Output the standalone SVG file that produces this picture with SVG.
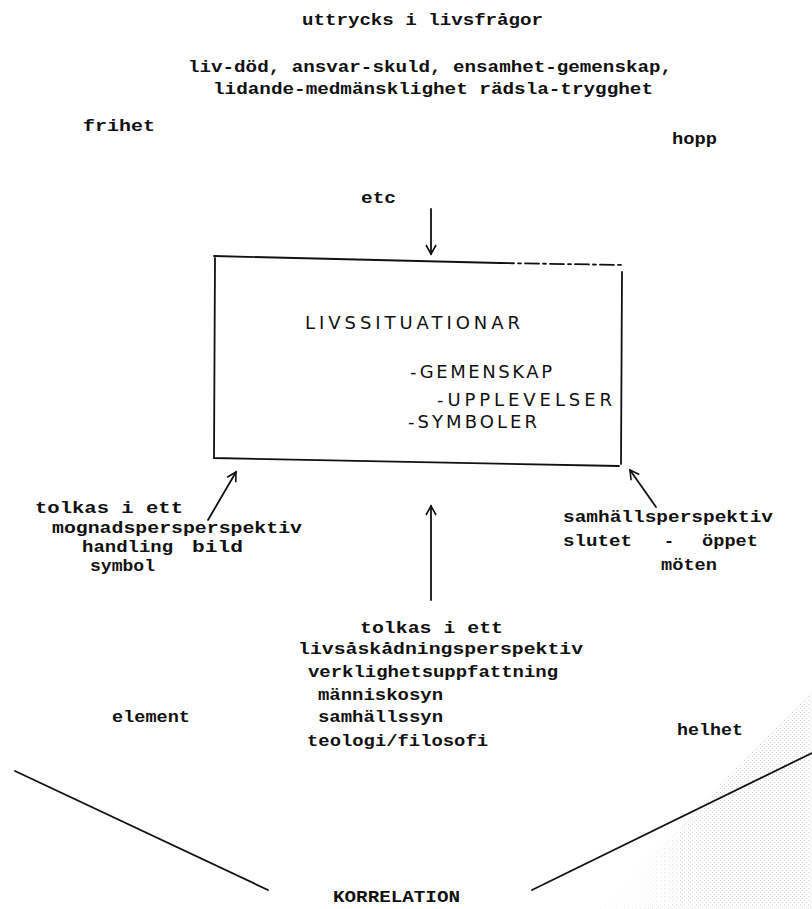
<svg xmlns="http://www.w3.org/2000/svg" width="812" height="909" viewBox="0 0 812 909">
<style>
.t{font-family:"Liberation Mono","DejaVu Sans Mono",monospace;font-weight:bold;font-size:16px;fill:#111}
.s{font-family:"DejaVu Sans","Liberation Sans",sans-serif;font-size:18px;fill:#111}
.ln{stroke:#111;stroke-width:1.8;fill:none;stroke-linecap:round}
</style>
<defs>
<marker id="ah" viewBox="0 0 12 12" refX="10" refY="6" markerWidth="12" markerHeight="12" markerUnits="userSpaceOnUse" orient="auto">
<path d="M1,1 L10,6 L1,11" fill="none" stroke="#111" stroke-width="1.6"/>
</marker>
<pattern id="speck" width="4" height="4" patternUnits="userSpaceOnUse">
<rect x="0" y="0" width="1" height="1" fill="#bbb"/>
<rect x="2" y="2" width="1" height="1" fill="#ccc"/>
</pattern>
<linearGradient id="fade" x1="0" y1="0" x2="1" y2="0">
<stop offset="0" stop-color="#fff" stop-opacity="1"/>
<stop offset="0.6" stop-color="#fff" stop-opacity="0"/>
</linearGradient>
</defs>
<rect width="812" height="909" fill="#fff"/>
<g id="scan-shade">
<polygon points="600,909 812,690 812,909" fill="url(#speck)" opacity="0.7"/>
<polygon points="600,909 812,690 812,909" fill="url(#fade)"/>
</g>
<g id="top">
<text class="t" x="302" y="25" textLength="241" lengthAdjust="spacingAndGlyphs">uttrycks i livsfrågor</text>
<text class="t" x="188" y="72" textLength="484" lengthAdjust="spacingAndGlyphs">liv-död, ansvar-skuld, ensamhet-gemenskap,</text>
<text class="t" x="213" y="94" textLength="440" lengthAdjust="spacingAndGlyphs">lidande-medmänsklighet rädsla-trygghet</text>
<text class="t" x="83" y="131" textLength="72" lengthAdjust="spacingAndGlyphs">frihet</text>
<text class="t" x="672" y="144" textLength="45" lengthAdjust="spacingAndGlyphs">hopp</text>
<text class="t" x="361" y="203" textLength="35" lengthAdjust="spacingAndGlyphs">etc</text>
</g>
<g id="box">
<path class="ln" d="M214,256 L500,263"/>
<path class="ln" d="M500,263 L623,265" stroke-dasharray="14,4,3,4"/>
<path class="ln" d="M215,258 L214,458 L619,466"/>
<path class="ln" d="M622,272 L621,464"/>
<text class="s" x="305" y="329" textLength="215" lengthAdjust="spacing">LIVSSITUATIONAR</text>
<text class="s" x="410" y="378" textLength="142" lengthAdjust="spacing">-GEMENSKAP</text>
<text class="s" x="437" y="406" textLength="175" lengthAdjust="spacing">-UPPLEVELSER</text>
<text class="s" x="408" y="428" textLength="129" lengthAdjust="spacing">-SYMBOLER</text>
</g>
<g id="connectors">
<path class="ln" d="M431,209 L431,254" marker-end="url(#ah)"/>
<path class="ln" d="M208,520 L236,472" marker-end="url(#ah)"/>
<path class="ln" d="M431,600 L431,506" marker-end="url(#ah)"/>
<path class="ln" d="M656,507 L630,470" marker-end="url(#ah)"/>
</g>
<g id="left">
<text class="t" x="35" y="513" textLength="148" lengthAdjust="spacingAndGlyphs">tolkas i ett</text>
<text class="t" x="52" y="533" textLength="250" lengthAdjust="spacingAndGlyphs">mognadspersperspektiv</text>
<text class="t" x="82" y="552" textLength="91" lengthAdjust="spacingAndGlyphs">handling</text>
<text class="t" x="192" y="552" textLength="51" lengthAdjust="spacingAndGlyphs">bild</text>
<text class="t" x="90" y="571" textLength="65" lengthAdjust="spacingAndGlyphs">symbol</text>
</g>
<g id="middle">
<text class="t" x="360" y="633" textLength="143" lengthAdjust="spacingAndGlyphs">tolkas i ett</text>
<text class="t" x="298" y="654" textLength="285" lengthAdjust="spacingAndGlyphs">livsåskådningsperspektiv</text>
<text class="t" x="308" y="677" textLength="250" lengthAdjust="spacingAndGlyphs">verklighetsuppfattning</text>
<text class="t" x="318" y="700" textLength="125" lengthAdjust="spacingAndGlyphs">människosyn</text>
<text class="t" x="318" y="722" textLength="125" lengthAdjust="spacingAndGlyphs">samhällssyn</text>
<text class="t" x="307" y="746" textLength="181" lengthAdjust="spacingAndGlyphs">teologi/filosofi</text>
</g>
<g id="right">
<text class="t" x="563" y="522" textLength="210" lengthAdjust="spacingAndGlyphs">samhällsperspektiv</text>
<text class="t" x="563" y="546" textLength="69" lengthAdjust="spacingAndGlyphs">slutet</text>
<text class="t" x="664" y="546" textLength="10" lengthAdjust="spacingAndGlyphs">-</text>
<text class="t" x="702" y="546" textLength="56" lengthAdjust="spacingAndGlyphs">öppet</text>
<text class="t" x="661" y="570" textLength="56" lengthAdjust="spacingAndGlyphs">möten</text>
</g>
<g id="bottom">
<text class="t" x="112" y="722" textLength="78" lengthAdjust="spacingAndGlyphs">element</text>
<text class="t" x="677" y="735" textLength="66" lengthAdjust="spacingAndGlyphs">helhet</text>
<path class="ln" d="M15,771 L268,890"/>
<path class="ln" d="M532,890 L812,753"/>
<text class="t" x="333" y="902" textLength="127" lengthAdjust="spacingAndGlyphs">KORRELATION</text>
</g>
</svg>
